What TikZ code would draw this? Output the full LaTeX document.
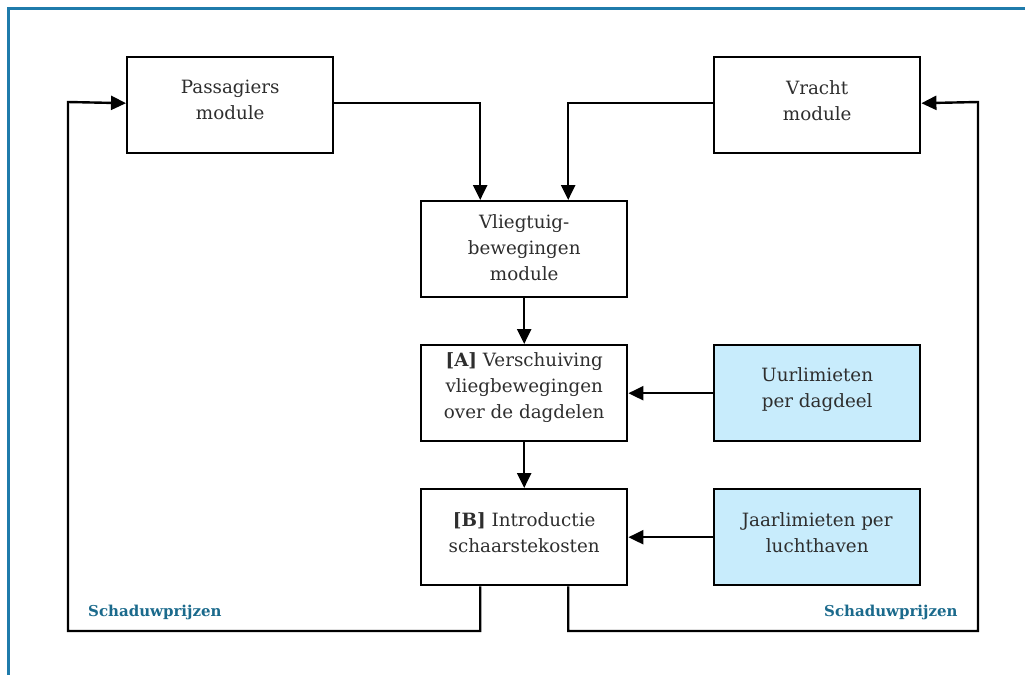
\documentclass[tikz,border=0pt]{standalone}
\usepackage{fontspec}
\setmainfont{DejaVu Serif}
\usetikzlibrary{arrows.meta}
\definecolor{framecol}{HTML}{1F7BAB}
\definecolor{shadowcol}{HTML}{1B6A8C}
\definecolor{limitfill}{HTML}{C8ECFC}
\definecolor{txtcol}{HTML}{2E2E2E}

\begin{document}
\begin{tikzpicture}[x=1pt,y=-1pt,
  box/.style={draw=black, line width=2.4pt, minimum width=206pt, minimum height=96pt,
              inner sep=0pt, anchor=north west},
  limitbox/.style={box, fill=limitfill},
  boxtext/.style={text=txtcol, align=center, font=\fontsize{18.3}{26}\selectfont},
  conn/.style={draw=black, line width=2.4pt, -{Triangle[length=15pt,width=14pt]}},
  shadowlbl/.style={text=shadowcol, anchor=west, inner sep=0pt,
                    font=\fontsize{15}{17}\selectfont\bfseries},
]
\useasboundingbox (0,0) rectangle (1025,675);

% outer frame (top and left edges)
\draw[framecol, line width=2.5pt] (1025,8.5) -- (8.5,8.5) -- (8.5,675);

% modules
\node[box, label={[boxtext, yshift=5pt]center:Passagiers\\module}] (pas) at (126,56) {};
\node[box, label={[boxtext, yshift=5pt]center:Vracht\\module}] (vra) at (713,56) {};
\node[box, label={[boxtext, yshift=2pt]center:Vliegtuig-\\bewegingen\\module}] (vlg) at (420,200) {};
\node[box, label={[boxtext, yshift=6pt]center:{\textbf{[A]} Verschuiving}\\vliegbewegingen\\over de dagdelen}] (sA) at (420,344) {};
\node[limitbox, label={[boxtext, yshift=4pt]center:Uurlimieten\\per dagdeel}] (uur) at (713,344) {};
\node[box, label={[boxtext, yshift=5pt]center:{\textbf{[B]} Introductie}\\schaarstekosten}] (sB) at (420,488) {};
\node[limitbox, label={[boxtext, yshift=5pt]center:Jaarlimieten per\\luchthaven}] (jaar) at (713,488) {};

% feedback corners
\coordinate (lowL) at (68,631);
\coordinate (upL) at (68,102);
\coordinate (lowR) at (978,631);
\coordinate (upR) at (978,102);

% forward flow
\draw[conn] ([yshift=2pt]pas.east) -| ([xshift=-44pt]vlg.north);
\draw[conn] ([yshift=2pt]vra.west) -| ([xshift=44pt]vlg.north);
\draw[conn] (vlg.south) -- (sA.north);
\draw[conn] (sA.south) -- (sB.north);
\draw[conn] (uur.west) -- (sA.east);
\draw[conn] (jaar.west) -- (sB.east);

% shadow-price feedback loops
\draw[conn] ([xshift=-44pt]sB.south) |- (lowL) -- (upL) -- ([yshift=2pt]pas.west);
\draw[conn] ([xshift=44pt]sB.south) |- (lowR) -- (upR) -- ([yshift=2pt]vra.east);

\node[shadowlbl] (shL) at (88,612) {Schaduwprijzen};
\node[shadowlbl] (shR) at (824,612) {Schaduwprijzen};
\end{tikzpicture}
\end{document}
